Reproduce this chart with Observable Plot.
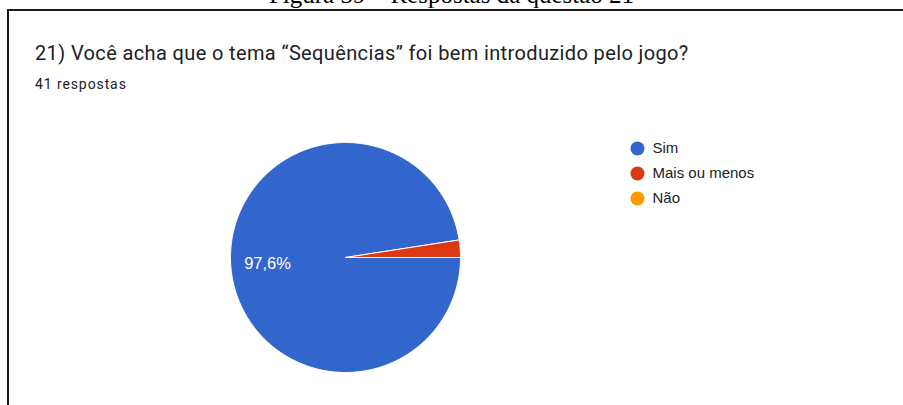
<!DOCTYPE html>
<html>
<head>
<meta charset="utf-8">
<script src="https://cdn.jsdelivr.net/npm/d3@7"></script>
<script src="https://cdn.jsdelivr.net/npm/@observablehq/plot@0.6"></script>
<style>
  html, body { margin: 0; padding: 0; background: #fff; }
  body { width: 903px; height: 405px; overflow: hidden; position: relative; }
  #caption { position: absolute; left: 0; width: 903px; top: -18px; text-align: center;
    font-family: "Liberation Serif", "Times New Roman", serif; font-size: 25px; color: #000; line-height: 25px; white-space: nowrap; }
  #box { position: absolute; left: 7px; top: 9px; width: 920px; height: 420px;
    border-top: 2px solid #1a1a1a; border-left: 2px solid #1a1a1a; }
  #title { position: absolute; left: 35px; top: 41px; font-family: Roboto, sans-serif; font-size: 20px;
    letter-spacing: 0.37px; color: #202124; white-space: nowrap; line-height: 24px; }
  #subtitle { position: absolute; left: 35px; top: 76px; font-family: Roboto, sans-serif; font-size: 14px;
    letter-spacing: 0.9px; color: #202124; white-space: nowrap; line-height: 16px; }
  #pie { position: absolute; left: 224.5px; top: 137px; }
  #legend { position: absolute; left: 627px; top: 138px; }
  svg { display: block; }
</style>
</head>
<body>
<div id="caption">Figura 39 – Respostas da questão 21</div>
<div id="box"></div>
<div id="title">21) Você acha que o tema “Sequências” foi bem introduzido pelo jogo?</div>
<div id="subtitle">41 respostas</div>
<div id="pie"></div>
<div id="legend"></div>
<script>
const answers = ["Sim", "Mais ou menos", "Não"];
const counts = [40, 1, 0];
const colors = ["#3366cc", "#dc3912", "#ff9900"];
const total = d3.sum(counts);

const arcs = d3.pie().sort(null).startAngle(Math.PI / 2).endAngle(Math.PI / 2 + 2 * Math.PI)(counts);

// polygon vertices for each slice, derived from pie angles
const pts = [];
arcs.forEach((a, i) => {
  if (a.value <= 0) return;
  const n = Math.max(2, Math.ceil((a.endAngle - a.startAngle) / (2 * Math.PI) * 360));
  pts.push({answer: answers[i], x: 0, y: 0});
  for (let k = 0; k <= n; k++) {
    const t = a.startAngle + (a.endAngle - a.startAngle) * k / n;
    pts.push({answer: answers[i], x: Math.sin(t), y: Math.cos(t)});
  }
  pts.push({answer: answers[i], x: 0, y: 0});
});

const labels = arcs.map((a, i) => {
  const m = (a.startAngle + a.endAngle) / 2;
  return {answer: answers[i], pct: a.value / total, x: 0.68 * Math.sin(m), y: 0.68 * Math.cos(m)};
}).filter(d => d.pct > 0.05);

const S = 240, R = 115;
const dom = S / 2 / R;
const pie = Plot.plot({
  width: S, height: S, margin: 0,
  x: {domain: [-dom, dom], axis: null},
  y: {domain: [-dom, dom], axis: null},
  color: {domain: answers, range: colors},
  marks: [
    Plot.line(pts, {x: "x", y: "y", z: "answer", fill: "answer", stroke: "#fff", strokeWidth: 1, strokeLinejoin: "round"}),
    Plot.text(labels, {x: "x", y: "y", text: d => (d.pct * 100).toFixed(1).replace(".", ",") + "%",
      fill: "#fff", fontSize: 16.5, fontFamily: "Liberation Sans, Arial, sans-serif"})
  ]
});
document.getElementById("pie").appendChild(pie);

const legend = Plot.plot({
  width: 200, height: 80, marginTop: 10, marginBottom: 20, marginLeft: 10, marginRight: 10,
  x: {domain: [0, 1], axis: null},
  y: {type: "point", domain: answers, padding: 0, axis: null},
  color: {domain: answers, range: colors},
  marks: [
    Plot.dot(answers, {x: 0, y: d => d, r: 7, fill: d => d}),
    Plot.text(answers, {x: 0, y: d => d, text: d => d, dx: 15, textAnchor: "start", fill: "#222",
      fontSize: 15, fontFamily: "Liberation Sans, Arial, sans-serif"})
  ]
});
document.getElementById("legend").appendChild(legend);
</script>
</body>
</html>
